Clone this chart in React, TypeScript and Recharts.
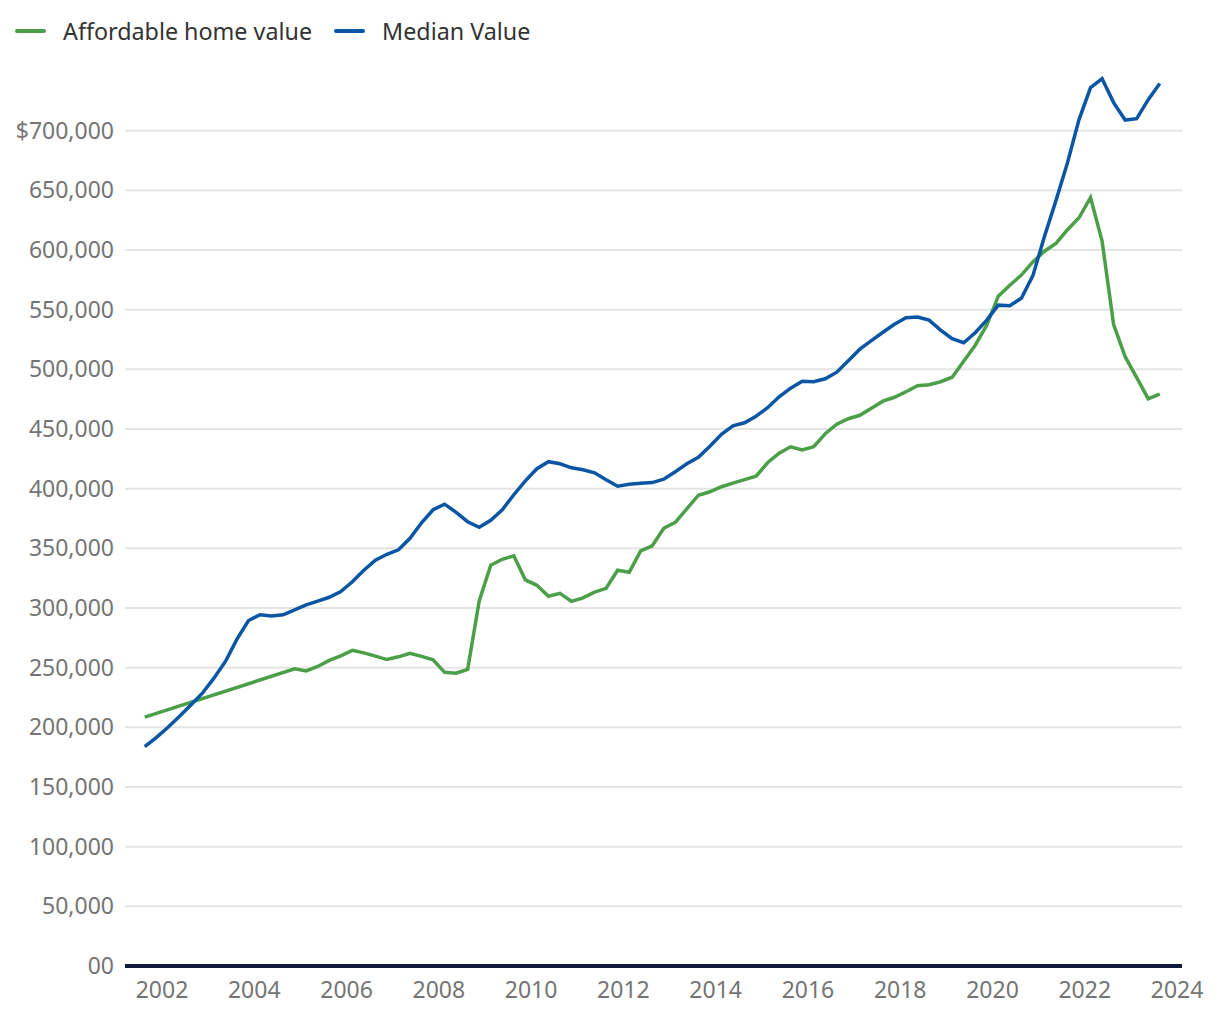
import React from "react";
import { LineChart, Line, XAxis, YAxis, CartesianGrid } from "recharts";

// quarterly readings, first point is Q3 2001
const firstQuarter = 2001.625;

const affordable: Array<number | null> = [
  208500, null, null, null, null, null, null, null, null, null, null, null, null,
  249000, 247300, 251000, 256100, 259900, 264500, 262400, 259700, 256800, 259100,
  262000, 259500, 256600, 246100, 245400, 248600, 306000, 335800, 340800, 343700,
  323600, 319000, 309800, 312300, 305600, 308500, 313300, 316500, 331600, 329900,
  347900, 352100, 366800, 371800, 383100, 394500, 397400, 401600, 404700, 407600,
  410400, 421700, 429700, 435100, 432400, 435100, 446000, 454000, 458600, 461500,
  467400, 473300, 476600, 481200, 486300, 487100, 489600, 493400, 506800, 520200,
  537000, 561300, 570500, 579000, 590000, 599000, 605500, 617000, 627000, 644000,
  607500, 537400, 510600, 493000, 475400, 479200,
];

const median: number[] = [
  183900, 191400, 199800, 209000, 218800, 228600, 241200, 255200, 273900, 289500,
  294300, 293400, 294300, 298500, 302700, 305800, 309000, 313800, 322000, 331600,
  340000, 345000, 348800, 358400, 371400, 382300, 387000, 380200, 372300, 367600,
  373500, 382300, 394900, 406600, 416700, 422600, 420900, 417500, 415800, 413300,
  407500, 402000, 403700, 404500, 405100, 407900, 414200, 420900, 426300, 435500,
  445600, 452700, 455200, 460700, 467800, 477000, 484200, 490000, 489600, 492100,
  497600, 507200, 516900, 524000, 531100, 537800, 543300, 543900, 541200, 532800,
  525700, 522300, 530700, 541200, 553800, 553300, 559600, 578500, 611200, 641400,
  673200, 709300, 736100, 743600, 723500, 708900, 710100, 726000, 739500,
];

const yearTicks = [2002, 2004, 2006, 2008, 2010, 2012, 2014, 2016, 2018, 2020, 2022, 2024];
const valueTicks = [
  0, 50000, 100000, 150000, 200000, 250000, 300000, 350000,
  400000, 450000, 500000, 550000, 600000, 650000, 700000,
];

const GREEN = "#4a9f48";
const BLUE = "#0b55a5";
const FONT = "'Noto Sans', 'Open Sans', sans-serif";

const rows = median.map((m, i) => ({
  t: firstQuarter + i * 0.25,
  median: m,
  affordable: affordable[i],
}));

const fmtValue = (v: number) => {
  if (v === 0) return "00";
  const s = v.toLocaleString("en-US");
  return v === 700000 ? "$" + s : s;
};

function LegendItem({ color, label }: { color: string; label: string }) {
  return (
    <div style={{ display: "flex", alignItems: "center", marginRight: 22 }}>
      <div style={{ width: 31, height: 4, borderRadius: 2, background: color, marginRight: 17 }} />
      <span style={{ fontSize: 23.3, color: "#333" }}>{label}</span>
    </div>
  );
}

export default function App() {
  return (
    <div
      style={{
        position: "absolute",
        left: 0,
        top: 0,
        width: 1220,
        height: 1020,
        background: "#fff",
        fontFamily: FONT,
      }}
    >
      <div style={{ position: "absolute", left: 15, top: 15, display: "flex" }}>
        <LegendItem color={GREEN} label="Affordable home value" />
        <LegendItem color={BLUE} label="Median Value" />
      </div>
      <LineChart
        width={1220}
        height={1020}
        data={rows}
        margin={{ top: 71, right: 38, bottom: 14, left: 8 }}
      >
        <CartesianGrid vertical={false} stroke="#e4e4e4" strokeWidth={2} syncWithTicks />
        <XAxis
          dataKey="t"
          type="number"
          domain={[2001.198, 2024.107]}
          ticks={yearTicks}
          allowDataOverflow
          height={40}
          tickLine={false}
          tickMargin={10}
          axisLine={{ stroke: "#0e1a3c", strokeWidth: 4 }}
          tick={{ fill: "#747474", fontSize: 23, fontFamily: FONT }}
        />
        <YAxis
          type="number"
          domain={[0, 750000]}
          ticks={valueTicks}
          width={117}
          tickLine={false}
          axisLine={false}
          tickMargin={5}
          tickFormatter={fmtValue}
          tick={{ fill: "#747474", fontSize: 23, fontFamily: FONT }}
        />
        <Line
          dataKey="affordable"
          stroke={GREEN}
          strokeWidth={3.5}
          dot={false}
          connectNulls
          type="linear"
          isAnimationActive={false}
        />
        <Line
          dataKey="median"
          stroke={BLUE}
          strokeWidth={3.5}
          dot={false}
          type="linear"
          isAnimationActive={false}
        />
      </LineChart>
    </div>
  );
}
